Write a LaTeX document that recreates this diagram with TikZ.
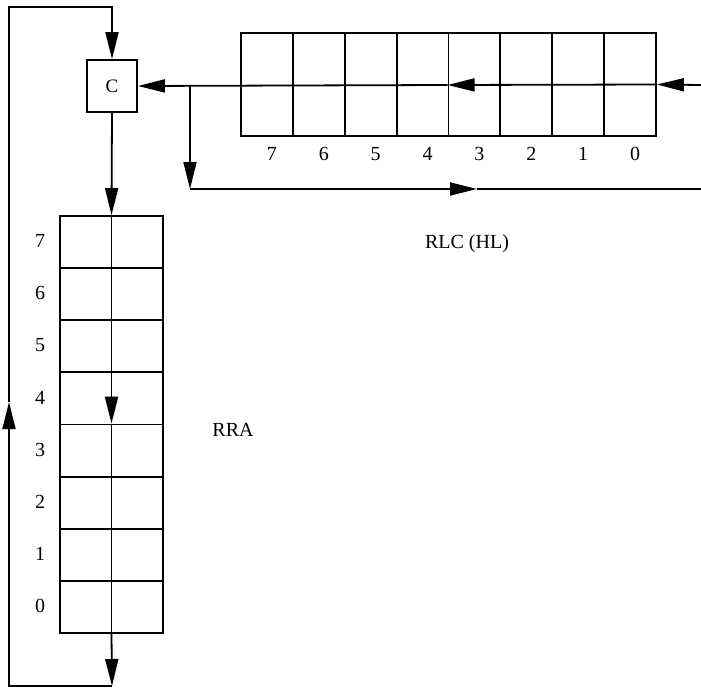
\documentclass[tikz,border=0pt]{standalone}
\usepackage{fontspec}
\setmainfont{Liberation Serif}
\usetikzlibrary{arrows.meta}
\tikzset{
  wire/.style={line width=1.8pt},
  flow/.style={wire, -{Triangle[length=27pt,width=13pt]}},
  cellH/.style={draw, line width=1.8pt, inner sep=0pt, minimum width=51.875pt, minimum height=103pt},
  cellV/.style={draw, line width=1.8pt, inner sep=0pt, minimum width=103pt, minimum height=52.125pt},
  carry/.style={draw, line width=1.8pt, inner sep=0pt, minimum width=50pt, minimum height=52pt, font=\fontsize{19}{22}\selectfont},
  bitlbl/.style={inner sep=0pt, font=\fontsize{20}{24}\selectfont},
  title/.style={inner sep=0pt, font=\fontsize{20}{24}\selectfont}
}
\begin{document}
\begin{tikzpicture}[x=1pt, y=-1pt]
\useasboundingbox (0,0) rectangle (701,688);

% carry flag
\node[carry] (C) at (112,86) {C};

% HL register, bit 7 on the left
\foreach \i in {0,...,7} {
  \node[cellH] (h\i) at ({241+(7-\i+0.5)*51.875},84.5) {};
  \node[bitlbl] at ({241+(7-\i+0.5)*51.875+5},154) {\i};
}

% accumulator, bit 7 at the top
\foreach \i in {0,...,7} {
  \node[cellV] (v\i) at (111.5,{216+(7-\i+0.5)*52.125}) {};
  \node[bitlbl] at (40,{216+(7-\i+0.5)*52.125-1}) {\i};
}

% free ends and corners
\coordinate (inR)   at (701,85);
\coordinate (br)    at (190,85);
\coordinate (brD)   at (190,189);
\coordinate (outM)  at (477,189);
\coordinate (outR)  at (701,189);
\coordinate (botA)  at (112,686);
\coordinate (botL)  at (9,686);
\coordinate (upM)   at (9,402);
\coordinate (topL)  at (9,7);
\coordinate (topC)  at (112,7);

% RLC (HL): bits move left, bit 7 into C
\draw[flow] (inR) -- (h0.east);
\draw[flow] (h0.east) -- (h3.west |- inR);
\draw[flow] (h3.west |- inR) -- (C.east);
\draw[flow] (br) -- (brD);
\draw[flow] (brD) -- (outM);
\draw[wire] (outM) -- (outR);

% RRA: bits move down, bit 0 into C, C into bit 7
\draw[flow] (C.south) -- (v7.north);
\draw[flow] (v7.north) -- (v3.north);
\draw[wire] (v3.north) -- (v0.south);
\draw[flow] (v0.south) -- (botA);
\draw[flow] (botA) -- (botL) -- (upM);
\draw[flow] (upM) -- (topL) -- (topC) -- (C.north);

\node[title] at (467,244) {RLC (HL)};
\node[title] at (233,430) {RRA};
\end{tikzpicture}
\end{document}
